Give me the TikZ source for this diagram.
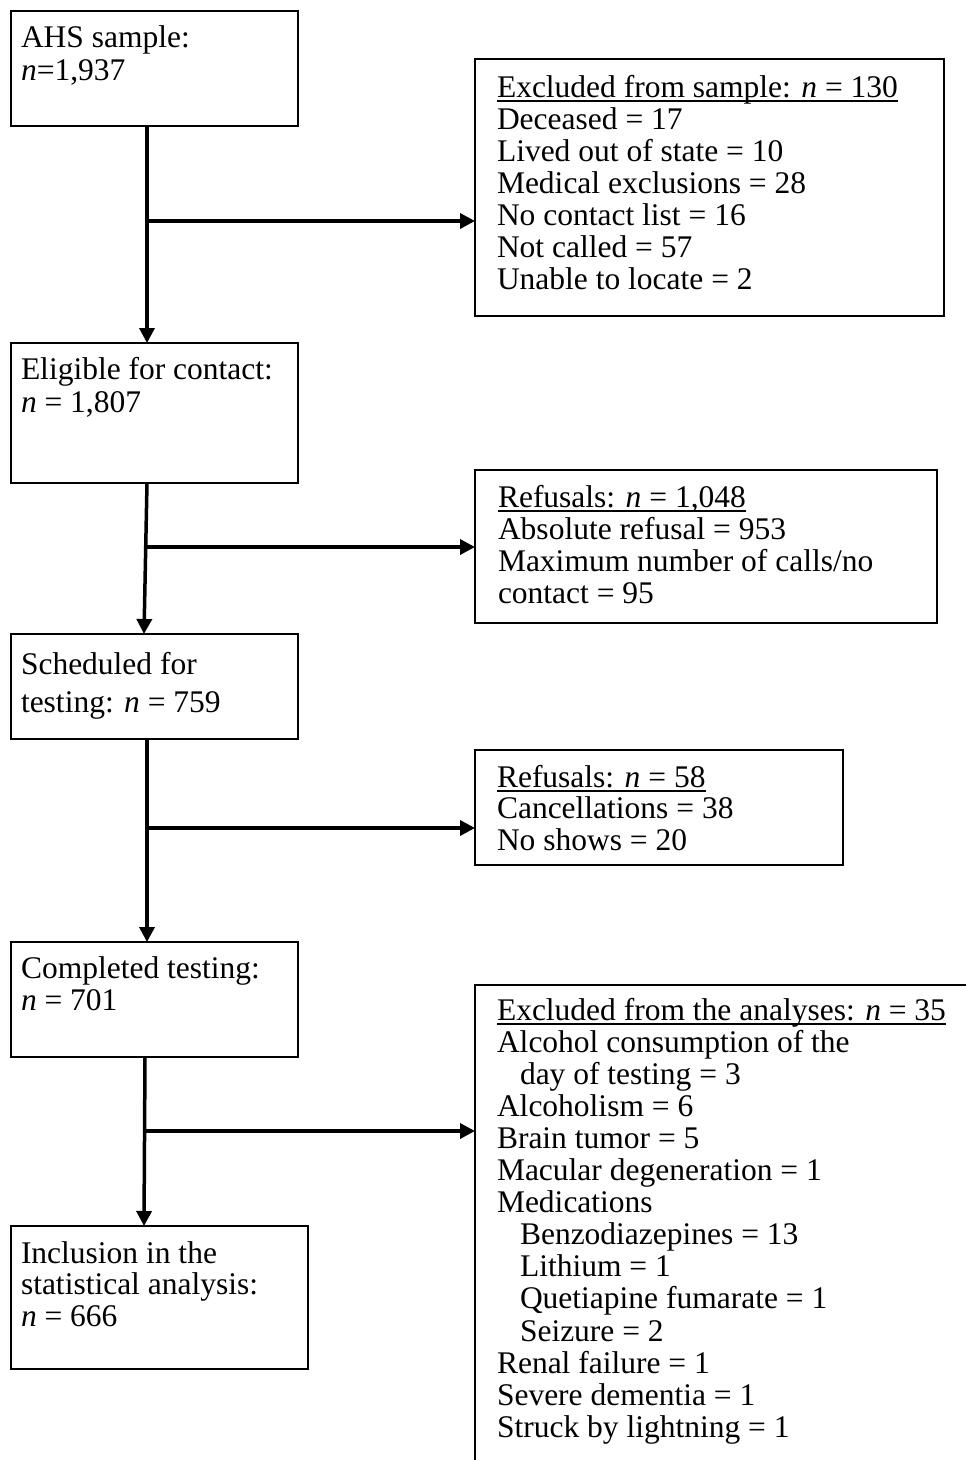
\documentclass[tikz,border=0pt]{standalone}
\usepackage{fontspec}
\setmainfont{Liberation Serif}
\usetikzlibrary{arrows.meta,calc}
\newsavebox\myulbox
\newcommand\ulinetxt[1]{\sbox\myulbox{#1}\rlap{\rule[-5pt]{\wd\myulbox}{2pt}}\usebox\myulbox}
\begin{document}
\begin{tikzpicture}[x=1pt,y=-1pt,
  box/.style={draw,line width=2pt,anchor=north west,inner sep=0pt,outer sep=0pt},
  txt/.style={anchor=north west,inner sep=0pt,outer sep=0pt,align=left},
  flow/.style={line width=3.5pt,-{Triangle[length=15pt,width=15pt]}},
  ]
\useasboundingbox (0,0) rectangle (966,1460);
\clip (0,0) rectangle (966,1460);

% boxes
\node[box,minimum width=287pt,minimum height=115pt] (b1) at (11,11) {};
\node[box,minimum width=287pt,minimum height=140pt] (b2) at (11,343) {};
\node[box,minimum width=287pt,minimum height=105pt] (b3) at (11,634) {};
\node[box,minimum width=287pt,minimum height=115pt] (b4) at (11,942) {};
\node[box,minimum width=297pt,minimum height=143pt] (b5) at (11,1226) {};
\node[box,minimum width=469pt,minimum height=257pt] (r1) at (475,59) {};
\node[box,minimum width=462pt,minimum height=153pt] (r2) at (475,470) {};
\node[box,minimum width=368pt,minimum height=115pt] (r3) at (475,750) {};
\node[box,minimum width=600pt,minimum height=600pt] (r4) at (475,985) {};

% texts
\node[txt,font=\fontsize{31.5}{33}\selectfont] (t1) at (21,23.9)
  {\strut AHS sample:\\\textit{n}=1,937};
\node[txt,font=\fontsize{31.5}{33}\selectfont] (t2) at (21,355.9)
  {\strut Eligible for contact:\\\textit{n} = 1,807};
\node[txt,font=\fontsize{31.5}{38}\selectfont] (t3) at (21,647.4)
  {\strut Scheduled for\\testing: \textit{n} = 759};
\node[txt,font=\fontsize{31.5}{32}\selectfont] (t4) at (21,955.6)
  {\strut Completed testing:\\\textit{n} = 701};
\node[txt,font=\fontsize{31.5}{31.5}\selectfont] (t5) at (21,1241)
  {\strut Inclusion in the\\statistical analysis:\\\textit{n} = 666};
\node[txt,font=\fontsize{31.5}{32}\selectfont] (s1) at (497,74.6)
  {\strut\ulinetxt{Excluded from sample: \textit{n} = 130}\\
   Deceased = 17\\Lived out of state = 10\\Medical exclusions = 28\\
   No contact list = 16\\Not called = 57\\Unable to locate = 2};
\node[txt,font=\fontsize{31.5}{32}\selectfont] (s2) at (498,484.6)
  {\strut\ulinetxt{Refusals: \textit{n} = 1,048}\\Absolute refusal = 953\\
   Maximum number of calls/no\\contact = 95};
\node[txt,font=\fontsize{31.5}{31.5}\selectfont] (s3) at (497,765)
  {\strut\ulinetxt{Refusals: \textit{n} = 58}\\Cancellations = 38\\No shows = 20};
\node[txt,font=\fontsize{31.5}{32.1}\selectfont] (s4) at (497,997.6)
  {\strut\ulinetxt{Excluded from the analyses: \textit{n} = 35}\\
   Alcohol consumption of the\\\hspace*{23pt}day of testing = 3\\
   Alcoholism = 6\\Brain tumor = 5\\Macular degeneration = 1\\Medications\\
   \hspace*{23pt}Benzodiazepines = 13\\\hspace*{23pt}Lithium = 1\\
   \hspace*{23pt}Quetiapine fumarate = 1\\\hspace*{23pt}Seizure = 2\\
   Renal failure = 1\\Severe dementia = 1\\Struck by lightning = 1};

% connectors
\coordinate (j1) at (147,221);
\coordinate (j2) at (146,547);
\coordinate (j3) at (147,828);
\coordinate (j4) at (145,1131);
\draw[flow] ($(b1.south west)+(136,0)$) -- ($(b2.north west)+(136,0)$);
\draw[flow] (j1) -- (j1 -| r1.west);
\draw[flow] ($(b2.south west)+(136,0)$) -- ($(b3.north west)+(133,0)$);
\draw[flow] (j2) -- (j2 -| r2.west);
\draw[flow] ($(b3.south west)+(136,0)$) -- ($(b4.north west)+(136,0)$);
\draw[flow] (j3) -- (j3 -| r3.west);
\draw[flow] ($(b4.south west)+(134,0)$) -- ($(b5.north west)+(133,0)$);
\draw[flow] (j4) -- (j4 -| r4.west);
\end{tikzpicture}
\end{document}
